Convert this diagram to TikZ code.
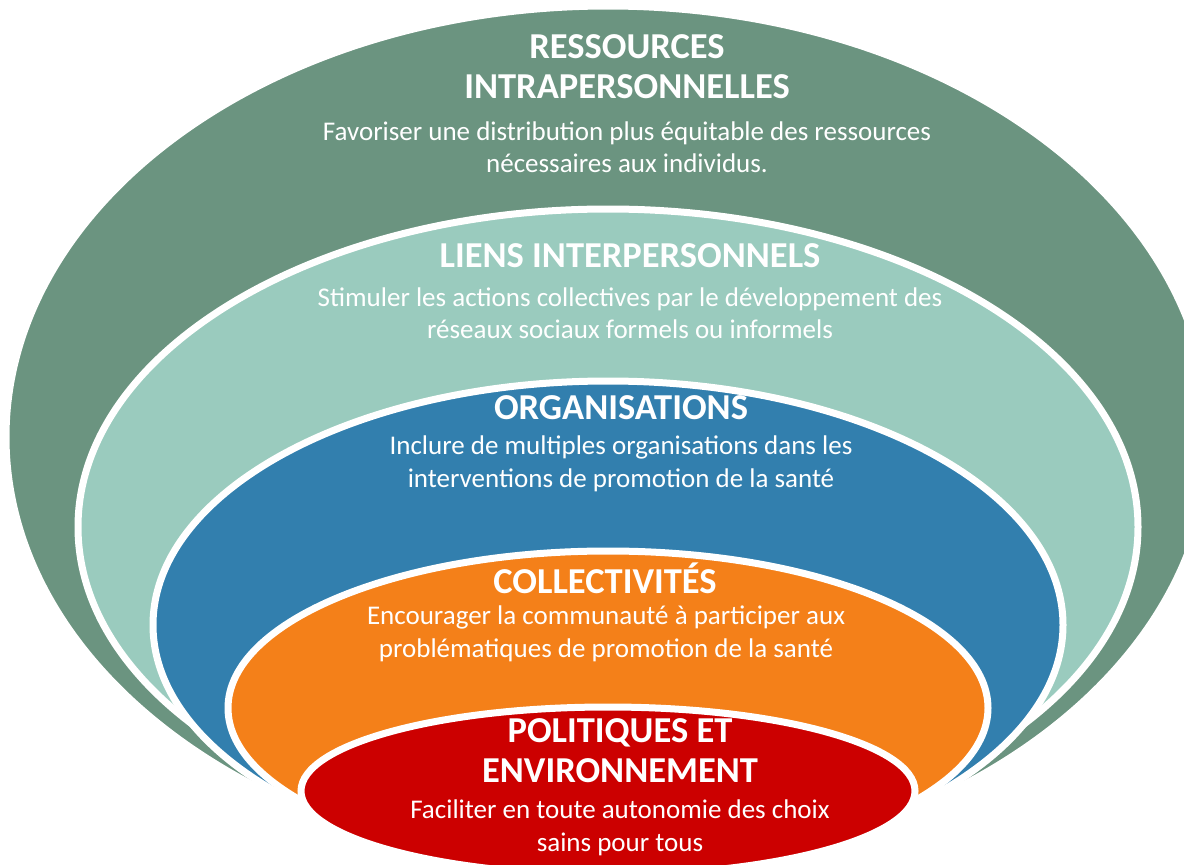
\documentclass[tikz,border=0pt]{standalone}
\usepackage{fontspec}
\setmainfont{Carlito}
\definecolor{ressvert}{RGB}{107,148,128}
\definecolor{lienvert}{RGB}{154,203,190}
\definecolor{orgbleu}{RGB}{50,127,174}
\definecolor{collorange}{RGB}{244,128,25}
\definecolor{polrouge}{RGB}{204,0,0}
\tikzset{
  couche/.style={draw=white, line width=7pt},
  titre/.style={text=white, align=center, font=\fontsize{36.5}{40}\selectfont\bfseries},
  texte/.style={text=white, align=center, font=\fontsize{27}{32.5}\selectfont},
}

\begin{document}
\begin{tikzpicture}[x=1pt, y=-1pt]
  \useasboundingbox (0,0) rectangle (1184,865);
  \clip (0,0) rectangle (1184,865);
  % couches, de l'exterieur vers l'interieur
  \draw[couche, fill=ressvert] (608,437) ellipse [x radius=602pt, y radius=431pt];
  \draw[couche, fill=lienvert] (608,527) ellipse [x radius=530pt, y radius=318pt];
  \draw[couche, fill=orgbleu] (608,625) ellipse [x radius=455pt, y radius=244pt];
  \draw[couche, fill=collorange] (608,708) ellipse [x radius=380pt, y radius=157pt];
  \draw[couche, fill=polrouge] (608,791) ellipse [x radius=307pt, y radius=84pt];
  % textes
  \node[titre] (titreress) at (627,67) {RESSOURCES\\INTRAPERSONNELLES};
  \node[texte] (texteress) at (627,147) {Favoriser une distribution plus équitable des ressources\\nécessaires aux individus.};
  \node[titre] (titreliens) at (630,256) {LIENS INTERPERSONNELS};
  \node[texte] (texteliens) at (630,313) {Stimuler les actions collectives par le développement des\\réseaux sociaux formels ou informels};
  \node[titre] (titreorg) at (621,408) {ORGANISATIONS};
  \node[texte] (texteorg) at (621,464) {Inclure de multiples organisations dans les\\interventions de promotion de la santé};
  \node[titre] (titrecoll) at (605,578) {COLLECTIVITÉS};
  \node[texte] (textecoll) at (606,634) {Encourager la communauté à participer aux\\problématiques de promotion de la santé};
  \node[titre] (titrepol) at (620,751) {POLITIQUES ET\\ENVIRONNEMENT};
  \node[texte] (textepol) at (620,828) {Faciliter en toute autonomie des choix\\sains pour tous};
\end{tikzpicture}
\end{document}
